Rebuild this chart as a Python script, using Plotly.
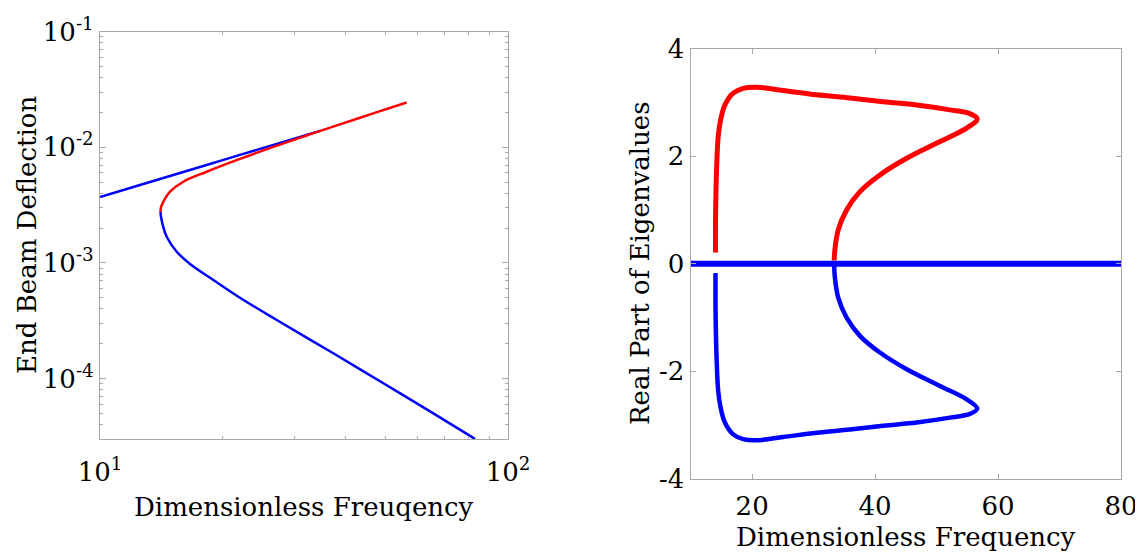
import plotly.graph_objects as go

# ---------------- data ----------------
# Left panel: end beam deflection vs dimensionless frequency (log-log)
left_blue_upper_freq = [10.00, 12.53, 17.58, 22.03, 27.62, 34.61]
left_blue_upper_defl = [0.003712, 0.004716, 0.006748, 0.008578, 0.010896, 0.013843]

left_red_freq = [14.07, 14.11, 14.30, 14.85, 16.00, 18.26, 22.03, 26.60, 32.10, 38.74, 46.73, 56.44]
left_red_defl = [0.002754, 0.003024, 0.003381, 0.004124, 0.005031, 0.006137, 0.007918,
                 0.010060, 0.012627, 0.015763, 0.019589, 0.024343]

left_blue_lower_freq = [14.07, 14.11, 14.25, 14.57, 15.42, 16.62, 18.96, 22.03, 27.11,
                        37.31, 49.49, 65.62, 82.99]
left_blue_lower_defl = [0.002754, 0.002508, 0.002126, 0.001684, 0.001250, 0.000978, 0.000712,
                        0.000500, 0.000321, 0.0001655, 0.0000911, 0.0000501, 0.0000301]

left_xtick_vals = [10, 100]
left_xtick_text = ["10<sup>1</sup>", "10<sup>2</sup>"]
left_ytick_vals = [1e-4, 1e-3, 1e-2, 1e-1]
left_ytick_text = ["10<sup>-4</sup>", "10<sup>-3</sup>", "10<sup>-2</sup>", "10<sup>-1</sup>"]

# Right panel: real part of eigenvalues vs dimensionless frequency
right_red_freq = [14.04, 14.04, 14.21, 14.47, 14.86, 15.56, 16.91, 18.54, 20.72, 25.04, 30.48,
                  35.90, 41.32, 46.75, 52.17, 55.43, 56.62, 54.89, 50.55, 45.13, 40.78, 37.53,
                  35.36, 34.00, 33.46, 33.34]
right_red_real = [0.21, 0.82, 1.75, 2.36, 2.67, 2.95, 3.17, 3.26, 3.28, 3.22, 3.14,
                  3.08, 3.01, 2.95, 2.86, 2.79, 2.69, 2.52, 2.27, 1.96, 1.65, 1.34,
                  1.00, 0.63, 0.26, 0.06]

right_blue_freq = [14.04, 14.04, 14.21, 14.47, 14.86, 15.56, 16.91, 18.54, 20.72, 25.04, 30.48,
                   35.90, 41.32, 46.75, 52.17, 55.43, 56.62, 54.89, 50.55, 45.13, 40.78, 37.53,
                   35.36, 34.00, 33.46, 33.34]
right_blue_real = [-0.17, -0.82, -1.75, -2.36, -2.67, -2.95, -3.17, -3.26, -3.28, -3.22, -3.14,
                   -3.08, -3.01, -2.95, -2.86, -2.79, -2.69, -2.52, -2.27, -1.96, -1.65, -1.34,
                   -1.00, -0.63, -0.26, -0.04]

right_zero_freq = [10, 80]
right_zero_real = [0, 0]

right_xtick_vals = [20, 40, 60, 80]
right_xtick_text = ["20", "40", "60", "80"]
right_ytick_vals = [-4, -2, 0, 2, 4]
right_ytick_text = ["-4", "-2", "0", "2", "4"]

# ---------------- style ----------------
# The page body has an 8px default margin, so the figure is drawn 8px smaller
# and all target pixel positions are shifted by that offset.
OFF = 8
FW, FH = 1143 - OFF, 557 - OFF


def px(x):
    return (x - OFF) / FW


def py(y):
    return 1 - (y - OFF) / FH


RED = "#ff0000"
BLUE = "#0000ff"
GRAY = "#a8a8a8"
FONT = "DejaVu Serif"
FS = 26

fig = go.Figure()


def line(x, y, color, width, xa, ya):
    fig.add_trace(go.Scatter(x=x, y=y, xaxis=xa, yaxis=ya, mode="lines",
                             line=dict(color=color, width=width, shape="spline", smoothing=1.0),
                             showlegend=False, hoverinfo="skip"))


line(left_blue_upper_freq, left_blue_upper_defl, BLUE, 2.5, "x", "y")
line(left_blue_lower_freq, left_blue_lower_defl, BLUE, 2.5, "x", "y")
line(left_red_freq, left_red_defl, RED, 2.5, "x", "y")

line(right_red_freq, right_red_real, RED, 5, "x2", "y2")
line(right_blue_freq, right_blue_real, BLUE, 4.5, "x2", "y2")
line(right_zero_freq, right_zero_real, BLUE, 6, "x2", "y2")

axis_common = dict(showline=True, linecolor=GRAY, linewidth=1.4, mirror="ticks",
                   ticks="inside", tickcolor=GRAY, tickwidth=1, showgrid=False, zeroline=False,
                   automargin=False,
                   tickfont=dict(family=FONT, size=FS, color="black"))

minor_x = [20, 30, 40, 50, 60, 70, 80, 90]
minor_y = [m * d for d in (1e-5, 1e-4, 1e-3, 1e-2) for m in range(2, 10)]

fig.update_layout(
    width=FW, height=FH,
    margin=dict(l=0, r=0, t=0, b=0, autoexpand=False),
    paper_bgcolor="white", plot_bgcolor="white",
    xaxis=dict(domain=[px(100), px(508)], anchor="y", type="log", range=[1, 2],
               tickvals=left_xtick_vals, ticktext=left_xtick_text, ticklen=6,
               ticklabelstandoff=10,
               minor=dict(tickvals=minor_x, ticks="inside", ticklen=3, tickcolor=GRAY),
               **axis_common),
    yaxis=dict(domain=[py(439), py(31.5)], anchor="x", type="log", range=[-4.522, -1],
               tickvals=left_ytick_vals, ticktext=left_ytick_text, ticklen=6,
               minor=dict(tickvals=minor_y, ticks="inside", ticklen=3, tickcolor=GRAY),
               **axis_common),
    xaxis2=dict(domain=[px(690.7), px(1121)], anchor="y2", range=[10, 80],
                tickvals=right_xtick_vals, ticktext=right_xtick_text, ticklen=5,
                ticklabelstandoff=4,
                **axis_common),
    yaxis2=dict(domain=[py(479), py(48.5)], anchor="x2", range=[-4, 4],
                tickvals=right_ytick_vals, ticktext=right_ytick_text, ticklen=5,
                **axis_common),
)

title_font = dict(family=FONT, size=FS, color="black")
fig.add_annotation(text="Dimensionless Freuqency", xref="paper", yref="paper",
                   x=px(304), y=py(507), xanchor="center", yanchor="middle",
                   showarrow=False, font=title_font)
fig.add_annotation(text="Dimensionless Frequency", xref="paper", yref="paper",
                   x=px(906), y=py(537), xanchor="center", yanchor="middle",
                   showarrow=False, font=title_font)
fig.add_annotation(text="End Beam Deflection", xref="paper", yref="paper",
                   x=px(27), y=py(235), xanchor="center", yanchor="middle",
                   textangle=-90, showarrow=False, font=title_font)
fig.add_annotation(text="Real Part of Eigenvalues", xref="paper", yref="paper",
                   x=px(640), y=py(263), xanchor="center", yanchor="middle",
                   textangle=-90, showarrow=False, font=title_font)

fig.write_html("out.html")
